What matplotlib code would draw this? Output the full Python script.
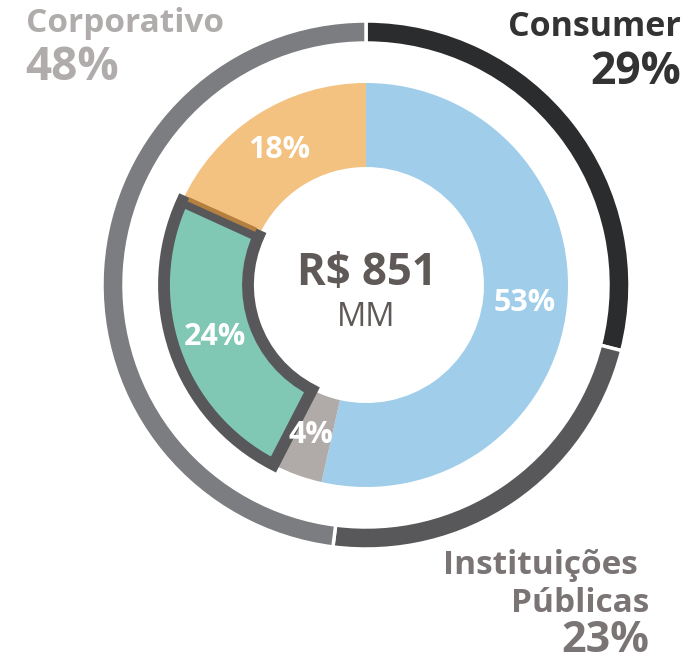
import matplotlib
matplotlib.use("Agg")
import matplotlib.pyplot as plt
import numpy as np

plt.rcParams['font.family'] = ['Open Sans', 'DejaVu Sans']

# Data
outer_labels = ["Consumer", "Instituições", "Públicas", "Corporativo"]
outer_values = [29, 23, 48]
outer_colors = ["#2b2c2e", "#58585a", "#7c7d80"]

inner_values = [53, 4, 24, 18]
inner_colors = ["#9fcdea", "#b0aba8", "#80c8b4", "#f3c180"]

center_value = "R$ 851"
center_unit = "MM"

W, H = 687, 665
fig = plt.figure(figsize=(W / 100, H / 100), dpi=100)
ax = fig.add_axes([0, 0, 1, 1])

cx, cy = 366, H - 285
R_out, w_out = 264, 22
R_in, w_in = 202, 84

ax.pie(outer_values, radius=R_out, center=(cx, cy), startangle=90, counterclock=False,
       colors=outer_colors, wedgeprops=dict(width=w_out, edgecolor="white", linewidth=2.5))

wedges, _ = ax.pie(inner_values, radius=R_in, center=(cx, cy), startangle=90, counterclock=False,
                   colors=inner_colors, wedgeprops=dict(width=w_in, linewidth=0))

# highlighted green segment
g = wedges[2]
g.set_edgecolor("#58585a")
g.set_linewidth(8.5)
g.set_zorder(5)
g.set_joinstyle("miter")

# brownish boundary line between green and orange
tot = sum(inner_values)
frac_b = sum(inner_values[:3]) / tot
ang = np.deg2rad(90 - 360 * frac_b)
r_a, r_b = R_in - w_in + 5, R_in - 5
off = np.deg2rad(1.5)
ax.plot([cx + r_a * np.cos(ang - off * 1.4), cx + r_b * np.cos(ang - off * 0.8)],
        [cy + r_a * np.sin(ang - off * 1.4), cy + r_b * np.sin(ang - off * 0.8)],
        color="#b5803f", lw=3.2, zorder=6, solid_capstyle="butt")

# percentage labels
cum = 0
r_lab = R_in - w_in / 2
for v in inner_values:
    mid = (cum + v / 2) / tot
    a = np.deg2rad(90 - 360 * mid)
    ax.text(cx + r_lab * np.cos(a), cy + r_lab * np.sin(a), f"{v}%", color="white",
            fontsize=22, fontweight="bold", ha="center", va="center", zorder=10)
    cum += v

# center text
ax.text(cx + 1, H - 274, center_value, fontsize=31.5, fontweight="bold", color="#5f5a58",
        ha="center", va="center")
ax.text(cx, H - 318, center_unit, fontsize=23.5, color="#5f5a58", ha="center", va="center")

# outer labels
lab_c = "#b0acab"
ax.text(26, H - 24, outer_labels[3], fontsize=24, fontweight="bold", color=lab_c,
        ha="left", va="center")
ax.text(25, H - 68, f"{outer_values[2]}%", fontsize=33, fontweight="bold", color=lab_c,
        ha="left", va="center")

ax.text(681, H - 27, outer_labels[0], fontsize=24.5, fontweight="bold", color="#333333",
        ha="right", va="center")
ax.text(681, H - 72, f"{outer_values[0]}%", fontsize=32, fontweight="bold", color="#333333",
        ha="right", va="center")

ax.text(638, H - 566, outer_labels[1], fontsize=24, fontweight="bold", color="#7a7574",
        ha="right", va="center")
ax.text(649, H - 604, outer_labels[2], fontsize=24, fontweight="bold", color="#7a7574",
        ha="right", va="center")
ax.text(649, H - 641, f"{outer_values[1]}%", fontsize=31, fontweight="bold", color="#7a7574",
        ha="right", va="center")

ax.set_xlim(0, W)
ax.set_ylim(0, H)
ax.set_aspect("equal")
ax.axis("off")

fig.savefig("out.png", dpi=100, facecolor="white")
